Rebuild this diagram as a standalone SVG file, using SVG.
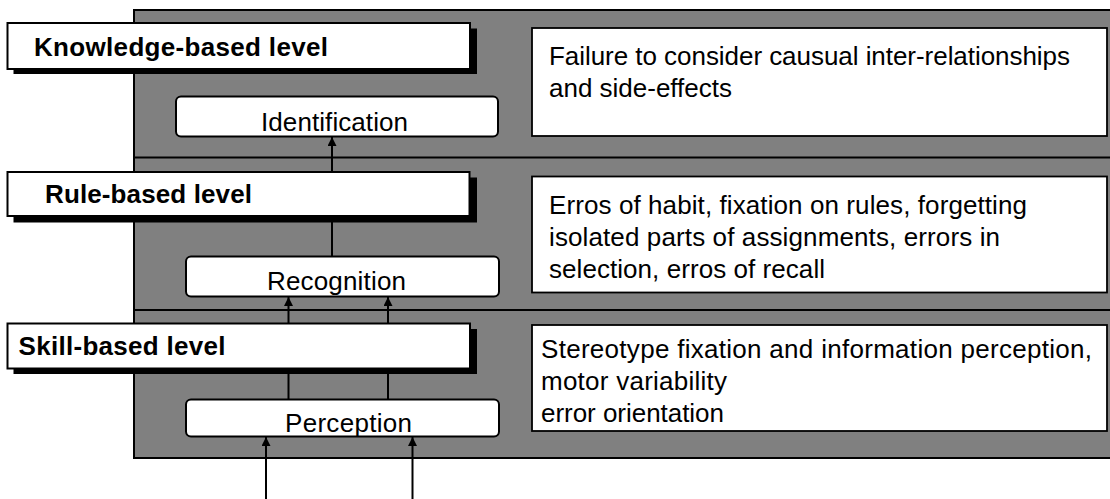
<svg xmlns="http://www.w3.org/2000/svg" width="1110" height="499" viewBox="0 0 1110 499">
  <defs>
    <marker id="arrow" viewBox="0 0 10 10" refX="10" refY="5" markerWidth="9" markerHeight="9" markerUnits="userSpaceOnUse" orient="auto">
      <path d="M0,0 L10,5 L0,10 Z" fill="#000"/>
    </marker>
    <style>
      .panel { fill: #808080; stroke: #000; stroke-width: 2; }
      .sep { stroke: #000; stroke-width: 2; }
      .shadow { fill: #000; }
      .label { fill: #fff; stroke: #000; stroke-width: 2; }
      .step { fill: #fff; stroke: #000; stroke-width: 2; }
      .note { fill: #fff; stroke: #000; stroke-width: 1.8; }
      .wire { stroke: #000; stroke-width: 2; fill: none; }
      .bold { font-family: "Liberation Sans", Arial, sans-serif; font-weight: bold; font-size: 26px; fill: #000; }
      .txt { font-family: "Liberation Sans", Arial, sans-serif; font-size: 26px; fill: #000; }
    </style>
  </defs>

  <!-- grey background panel with the three level bands -->
  <g id="panel">
    <rect class="panel" x="134" y="10" width="1000" height="448"/>
    <line class="sep" x1="134" y1="157.5" x2="1110" y2="157.5"/>
    <line class="sep" x1="134" y1="310" x2="1110" y2="310"/>
  </g>

  <!-- connectors -->
  <g id="connectors">
    <line class="wire" x1="332" y1="172" x2="332" y2="137" marker-end="url(#arrow)"/>
    <line class="wire" x1="332" y1="216" x2="332" y2="257"/>
    <line class="wire" x1="288.5" y1="324" x2="288.5" y2="297" marker-end="url(#arrow)"/>
    <line class="wire" x1="388" y1="324" x2="388" y2="297" marker-end="url(#arrow)"/>
    <line class="wire" x1="288.5" y1="368" x2="288.5" y2="400"/>
    <line class="wire" x1="388" y1="368" x2="388" y2="400"/>
    <line class="wire" x1="266" y1="499" x2="266" y2="437" marker-end="url(#arrow)"/>
    <line class="wire" x1="412.5" y1="499" x2="412.5" y2="437" marker-end="url(#arrow)"/>
  </g>

  <!-- knowledge-based level -->
  <g id="knowledge-label">
    <rect class="shadow" x="13.5" y="28.5" width="463.5" height="45.5"/>
    <rect class="label" x="7.5" y="23" width="462.5" height="46"/>
    <text class="bold" x="34" y="56" textLength="294" lengthAdjust="spacing">Knowledge-based level</text>
  </g>
  <g id="identification">
    <rect class="step" x="176" y="96.5" width="322" height="40" rx="5"/>
    <text class="txt" x="261" y="130.5" textLength="147" lengthAdjust="spacing">Identification</text>
  </g>
  <g id="knowledge-errors">
    <rect class="note" x="532" y="28" width="575" height="108"/>
    <text class="txt" x="549" y="65" textLength="521" lengthAdjust="spacing">Failure to consider causual inter-relationships</text>
    <text class="txt" x="549" y="97" textLength="183" lengthAdjust="spacing">and side-effects</text>
  </g>

  <!-- rule-based level -->
  <g id="rule-label">
    <rect class="shadow" x="13.5" y="177.5" width="463.5" height="45"/>
    <rect class="label" x="7.5" y="172" width="462" height="44"/>
    <text class="bold" x="45" y="203" textLength="207" lengthAdjust="spacing">Rule-based level</text>
  </g>
  <g id="recognition">
    <rect class="step" x="186" y="256.5" width="313" height="40" rx="5"/>
    <text class="txt" x="267" y="290" textLength="139" lengthAdjust="spacing">Recognition</text>
  </g>
  <g id="rule-errors">
    <rect class="note" x="532" y="176.5" width="575" height="116"/>
    <text class="txt" x="549" y="214" textLength="478" lengthAdjust="spacing">Erros of habit, fixation on rules, forgetting</text>
    <text class="txt" x="549" y="246" textLength="451" lengthAdjust="spacing">isolated parts of assignments, errors in</text>
    <text class="txt" x="549" y="278" textLength="276" lengthAdjust="spacing">selection, erros of recall</text>
  </g>

  <!-- skill-based level -->
  <g id="skill-label">
    <rect class="shadow" x="13.5" y="329" width="463.5" height="45"/>
    <rect class="label" x="7.5" y="323.5" width="462.5" height="45"/>
    <text class="bold" x="18.5" y="355" textLength="207" lengthAdjust="spacing">Skill-based level</text>
  </g>
  <g id="perception">
    <rect class="step" x="186" y="399.5" width="313" height="37" rx="5"/>
    <text class="txt" x="285" y="432" textLength="127" lengthAdjust="spacing">Perception</text>
  </g>
  <g id="skill-errors">
    <rect class="note" x="532" y="325" width="575" height="106"/>
    <text class="txt" x="541" y="358" textLength="551" lengthAdjust="spacing">Stereotype fixation and information perception,</text>
    <text class="txt" x="541" y="390" textLength="186" lengthAdjust="spacing">motor variability</text>
    <text class="txt" x="541" y="422" textLength="183" lengthAdjust="spacing">error orientation</text>
  </g>
</svg>
